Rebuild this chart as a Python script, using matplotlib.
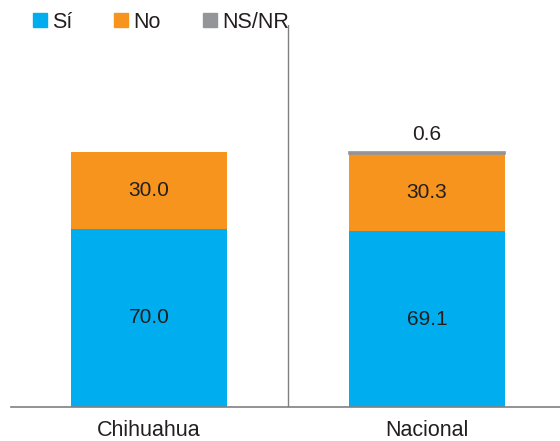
import matplotlib.pyplot as plt
from matplotlib.patches import Patch

plt.rcParams['font.family'] = ['Liberation Sans', 'DejaVu Sans']

categories = ['Chihuahua', 'Nacional']
si = [70.0, 69.1]
no = [30.0, 30.3]
nsnr = [0.0, 0.6]

c_si = '#00aeef'
c_no = '#f7941d'
c_ns = '#939598'
txt = '#231f20'

fig = plt.figure(figsize=(5.6, 4.41), dpi=100)
ax = fig.add_axes([11/560, 34/441, 549/560, 382/441])

x = [0, 1]
w = 0.56
ax.bar(x, si, width=w, color=c_si)
ax.bar(x, no, width=w, bottom=si, color=c_no)
base = [a + b for a, b in zip(si, no)]
# thin gray segment gets an outline so it shows like the original
edges = [c_ns if v > 0 else 'none' for v in nsnr]
ax.bar(x, nsnr, width=w, bottom=base, color=c_ns, edgecolor=edges, linewidth=1.2)

for i in range(2):
    ax.text(x[i], si[i] / 2, f'{si[i]:.1f}', ha='center', va='center', fontsize=15, color=txt)
    ax.text(x[i], si[i] + no[i] / 2, f'{no[i]:.1f}', ha='center', va='center', fontsize=15, color=txt)
    if nsnr[i] > 0:
        ax.text(x[i], base[i] + nsnr[i] + 7, f'{nsnr[i]:.1f}', ha='center', va='center', fontsize=15, color=txt)

ax.set_xlim(-0.496, 1.478)
ax.set_ylim(0, 150)
ax.axvline(0.5, color='#808080', lw=1)
for s in ['top', 'right', 'left']:
    ax.spines[s].set_visible(False)
ax.spines['bottom'].set_color('#808080')
ax.spines['bottom'].set_linewidth(1.2)
ax.set_yticks([])
ax.set_xticks(x)
ax.set_xticklabels(categories, fontsize=15.5, color=txt)
ax.tick_params(axis='x', length=0, pad=9)

handles = [Patch(color=c_si), Patch(color=c_no), Patch(color=c_ns)]
fig.legend(handles, ['Sí', 'No', 'NS/NR'], loc='upper left', bbox_to_anchor=(24/560, 1 - 3/441),
           ncol=3, frameon=False, fontsize=15.5, handlelength=0.65, handleheight=0.65,
           handletextpad=0.25, columnspacing=1.95, borderaxespad=0.0, labelcolor=txt)

fig.savefig('out.png', dpi=100)
